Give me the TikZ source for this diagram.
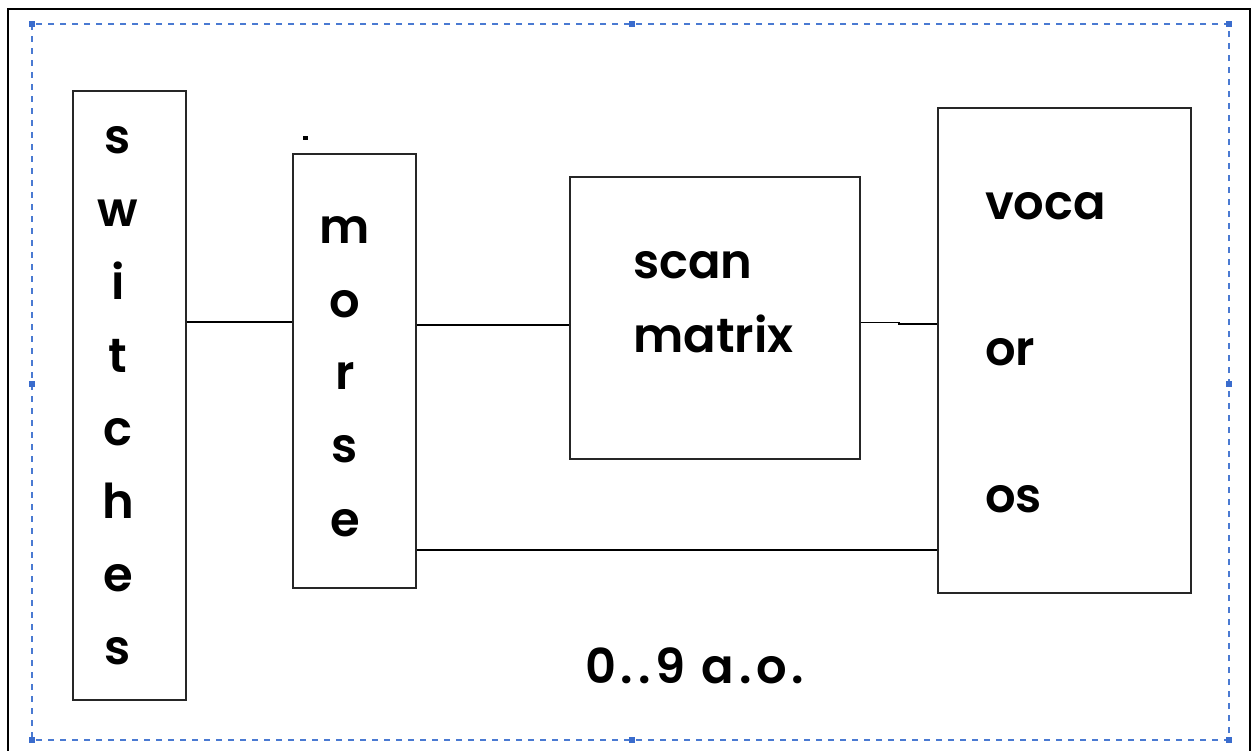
\documentclass[tikz,border=0pt]{standalone}
\usepackage{fontspec}
\setmainfont{Poppins}[UprightFont=* SemiBold]
\begin{document}
\begin{tikzpicture}[x=1pt,y=-1pt,
  box/.style={draw=black!85,line width=1.3pt,inner sep=0pt},
  wire/.style={draw=black,line width=1.3pt},
  lbl/.style={inner sep=0pt,font=\fontsize{48}{58}\selectfont},
  sel/.style={draw={rgb,255:red,74;green,122;blue,210},line width=1.6pt,dash pattern=on 6pt off 6pt},
  handle/.style={fill={rgb,255:red,58;green,108;blue,205},minimum size=6pt,inner sep=0pt}]
\useasboundingbox (0,0) rectangle (1256,750);
\fill[white] (0,0) rectangle (1256,750);
% frame of the page
\draw[line width=2.6pt] (8,760) -- (8,9) -- (1250,9) -- (1250,760);
% selection outline with its handles
\draw[sel] (32,24) rectangle (1229,740);
\foreach \hx/\hy [count=\i] in {32/24,632/24,1229/24,32/384,1229/384,32/740,632/740,1229/740}
  \node[handle] (h\i) at (\hx,\hy) {};
% blocks
\node[box,minimum width=113,minimum height=609] (sw) at (129.5,395.5) {};
\node[box,minimum width=123,minimum height=434] (mo) at (354.5,371) {};
\node[box,minimum width=290,minimum height=282] (sc) at (715,318) {};
\node[box,minimum width=253,minimum height=485] (vo) at (1064.5,350.5) {};
\node[draw,fill=black,line width=0.6pt,minimum size=3.5pt,inner sep=0pt] (dot) at (305.5,138) {};
% connectors
\coordinate (a1) at (0,322);
\coordinate (a2) at (0,325);
\coordinate (a3) at (0,550);
\coordinate (k1) at (899,322.5);
\coordinate (k2) at (899,324);
\draw[wire] (sw.east |- a1) -- (mo.west |- a1);
\draw[wire] (mo.east |- a2) -- (sc.west |- a2);
\draw[wire] (sc.east |- k1) -- (k1) -- (k2) -- (vo.west |- k2);
\draw[wire] (mo.east |- a3) -- (vo.west |- a3);
% labels
\foreach \ch/\yy [count=\i] in {s/153,w/226,i/299,t/372,c/445,h/518,e/591,s/664}
  \node[lbl,anchor=base] (sw\i) at (118,\yy) {\ch};
\foreach \ch/\yy [count=\i] in {m/243,o/317,r/389,s/462,e/536}
  \node[lbl,anchor=base] (mo\i) at (345,\yy) {\ch};
\node[lbl,anchor=base west] (scan) at (633,278) {scan};
\node[lbl,anchor=base west] (matrix) at (633,352) {matrix};
\node[lbl,anchor=base west] (voca) at (985,219) {voca};
\node[lbl,anchor=base west] (or) at (985,365) {or};
\node[lbl,anchor=base west] (os) at (985,512) {os};
\node[lbl,anchor=base west] (range) at (585,683) {\addfontfeature{LetterSpace=10}0..9 a.o.};
\end{tikzpicture}
\end{document}
